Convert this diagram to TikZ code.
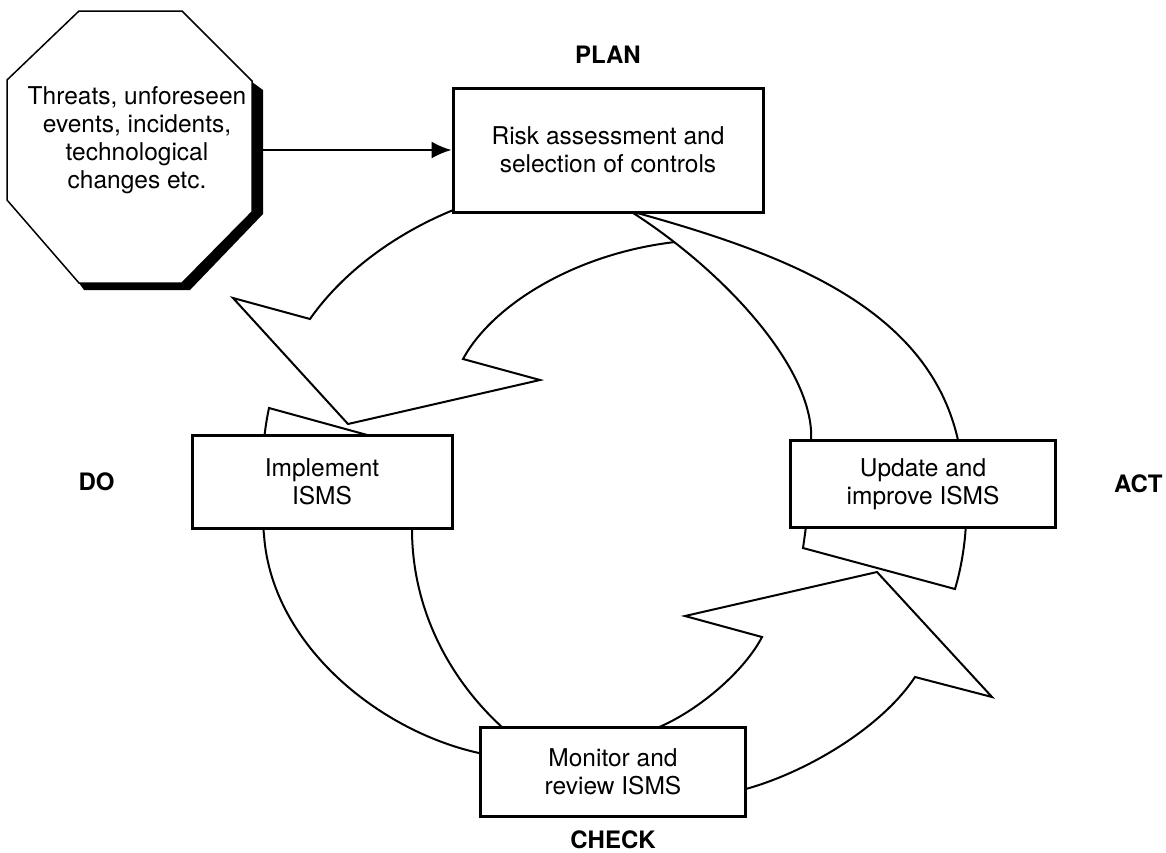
\documentclass[tikz,border=0pt]{standalone}
\usepackage{fontspec}
\setmainfont{TeX Gyre Heros}
\usetikzlibrary{arrows.meta,positioning}

\begin{document}
\begin{tikzpicture}[x=1pt, y=-1pt, line width=2pt, line join=miter,
    main/.style = {draw, line width=3pt, fill=white, align=center, inner sep=0pt, font=\fontsize{24.5}{28}\selectfont},
    phase/.style = {inner sep=0pt, font=\fontsize{24}{28}\selectfont\bfseries},
    band/.style = {draw, fill=white}]
  \useasboundingbox (0,0) rectangle (1166,852);

  % plan -> do
  \draw (475,202) .. controls (415,222) and (350,262) .. (310,319) -- (233,298) -- (348,424) -- (540,380) -- (463,359) .. controls (495,300) and (590,245) .. (700,240);
  % do -> check
  \draw[band] (400,444) -- (269,408) .. controls (262,440) and (259,490) .. (264,535) .. controls (272,650) and (390,740) .. (495,756) -- (515,739) -- (503,728) .. controls (450,680) and (412,610) .. (412,529) -- (411,470) -- cycle;
  % check -> act
  \draw[band] (738,791) .. controls (800,776) and (880,730) .. (915,677) -- (992,697) -- (877,572) -- (685,616) -- (762,637) .. controls (745,670) and (700,710) .. (657,728) -- (645,738) -- cycle;
  % act -> plan
  \draw[band] (630,211) .. controls (790,255) and (935,310) .. (960,450) .. controls (972,505) and (965,555) .. (955,589) -- (803,548) .. controls (810,500) and (812,470) .. (811,430) .. controls (806,360) and (720,268) .. cycle;

  \node[main, minimum width=310pt, minimum height=124pt] (risk) at (608,150) {Risk assessment and\\selection of controls};
  \node[main, minimum width=260pt, minimum height=93pt] (impl) at (322,482) {Implement\\ISMS};
  \node[main, minimum width=265pt, minimum height=87pt] (update) at (923,484) {Update and\\improve ISMS};
  \node[main, minimum width=265pt, minimum height=89pt] (monitor) at (613,772) {Monitor and\\review ISMS};

  \node[phase] (plan) [above=22pt of risk] {PLAN};
  \node[phase] (do) [left=75pt of impl] {DO};
  \node[phase] (act) [right=56pt of update] {ACT};
  \node[phase] (check) [below=12pt of monitor] {CHECK};

  % octagon with its shadow
  \fill (252,82) -- (263,90) -- (263,214) -- (190,290) -- (84,290) -- (79,283) -- (182,283) -- (252,212) -- cycle;
  \draw[line width=1.5pt, fill=white] (79,11) -- (182,11) -- (252,81) -- (252,212) -- (182,283) -- (79,283) -- (7,200) -- (7,80) -- cycle;
  \node[align=center, inner sep=0pt, font=\fontsize{24.5}{28}\selectfont] (threats) at (137,140) {Threats, unforeseen\\events, incidents,\\technological\\changes etc.};
  \coordinate (oct) at (263,150);

  \draw[-{Latex[length=20pt,width=17pt]}] (oct) -- (risk);
\end{tikzpicture}
\end{document}
